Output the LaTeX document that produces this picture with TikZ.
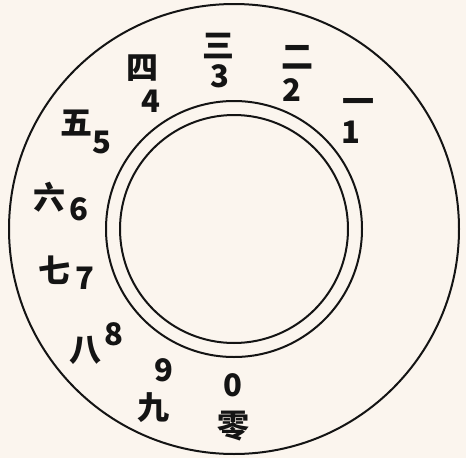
\documentclass[tikz,border=0pt]{standalone}
\usepackage{fontspec}
\newfontfamily\cjk{Noto Sans CJK SC}
\usepackage{xcolor}
\usetikzlibrary{positioning}
\definecolor{paper}{HTML}{FBF5EE}
\definecolor{ink}{HTML}{141414}
\tikzset{
  rim/.style={draw=ink, line width=2pt},
  hanzi/.style={font=\cjk\bfseries\fontsize{32}{32}\selectfont, text=ink, inner sep=0pt,
    text height=24pt, text depth=0pt},
  digit/.style={font=\cjk\bfseries\fontsize{31}{31}\selectfont, text=ink, inner sep=0pt},
}

\begin{document}
\begin{tikzpicture}[x=1pt, y=-1pt]
  \fill[paper] (0,0) rectangle (466,458);
  \useasboundingbox (0,0) rectangle (466,458);
  \coordinate (hub) at (234,229);
  % dial rim and finger hole
  \draw[rim] (hub) circle[radius=225pt];
  \draw[rim] (hub) circle[radius=128pt];
  \draw[rim] (hub) circle[radius=114pt];
  % numerals, chinese over arabic
  \foreach \n/\h/\hx/\hy/\dx/\dy in {1/一/358/101/351/132, 2/二/297/56/292/90,
      3/三/218/45/220/76, 4/四/142/67/151/101, 5/五/76/122/102/142,
      6/六/50/197/79/209, 7/七/54/270/85/278, 8/八/85/349/114/334,
      9/九/153/407/164/370, 0/零/233/425/233/385} {
    \node[hanzi] (han\n) at (\hx,\hy) {\h};
    \node[digit] (dig\n) at (\dx,\dy) {\n};
  }
\end{tikzpicture}
\end{document}
